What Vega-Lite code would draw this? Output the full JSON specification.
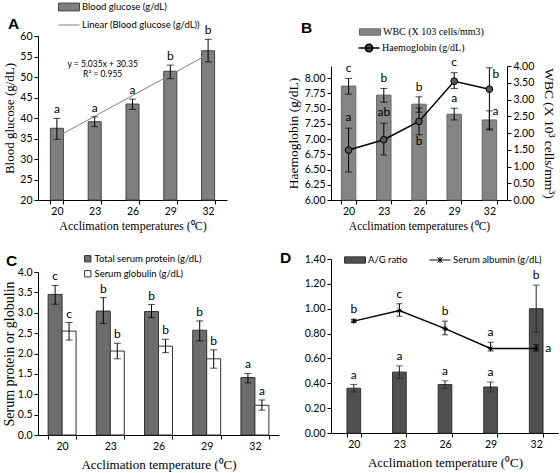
{
  "$schema": "https://vega.github.io/schema/vega-lite/v6.json",
  "padding": {"top": 1, "left": 2, "right": 0, "bottom": 0},
  "background": "white",
  "columns": 2,
  "bounds": "flush",
  "spacing": {"row": 59, "column": 52},
  "resolve": {"scale": {"fill": "independent", "stroke": "independent"}, "legend": {"fill": "independent", "stroke": "independent"}},
  "config": {
    "view": {"stroke": null},
    "font": "Lato",
    "axis": {"grid": false, "domainColor": "#000", "tickColor": "#000", "labelColor": "#000", "titleColor": "#000", "labelFont": "Lato", "labelFontSize": 10.5, "titleFont": "Liberation Serif", "titleFontSize": 13, "titleFontWeight": "normal", "tickSize": 4, "labelPadding": 2, "labelOverlap": false},
    "axisX": {"labelAngle": 0, "tickBand": "extent"},
    "legend": {"orient": "none", "padding": 0, "labelFont": "Lato", "labelFontSize": 9.5, "labelColor": "#000", "labelOffset": 7},
    "title": {"font": "Liberation Sans", "fontSize": 15.5, "fontWeight": "bold", "anchor": "start", "frame": "group", "color": "#000", "baseline": "alphabetic"},
    "text": {"font": "Lato", "fontSize": 12, "color": "#000"}
  },
  "datasets": {
    "glucose": [
      {"t": "20", "v": 37.5, "lo": 34.8, "hi": 39.9, "trend": 35.39, "sig": "a"},
      {"t": "23", "v": 39.1, "lo": 37.9, "hi": 40.3, "trend": 40.42, "sig": "a"},
      {"t": "26", "v": 43.4, "lo": 42.1, "hi": 44.6, "trend": 45.46, "sig": "a"},
      {"t": "29", "v": 51.4, "lo": 49.6, "hi": 52.9, "trend": 50.49, "sig": "b"},
      {"t": "32", "v": 56.4, "lo": 53.7, "hi": 59.2, "trend": 55.53, "sig": "b"}
    ],
    "blood": [
      {"t": "20", "wbc": 3.40, "wlo": 3.16, "whi": 3.63, "hb": 6.82, "hlo": 6.46, "hhi": 7.18, "ws": "c", "hs": "a"},
      {"t": "23", "wbc": 3.13, "wlo": 2.92, "whi": 3.33, "hb": 6.99, "hlo": 6.74, "hhi": 7.26, "ws": "b", "hs": "ab"},
      {"t": "26", "wbc": 2.86, "wlo": 2.62, "whi": 3.08, "hb": 7.29, "hlo": 7.07, "hhi": 7.51, "ws": "b", "hs": "b"},
      {"t": "29", "wbc": 2.56, "wlo": 2.39, "whi": 2.74, "hb": 7.95, "hlo": 7.83, "hhi": 8.09, "ws": "a", "hs": "c"},
      {"t": "32", "wbc": 2.39, "wlo": 2.12, "whi": 2.66, "hb": 7.82, "hlo": 7.15, "hhi": 8.17, "ws": "a", "hs": "b"}
    ],
    "protein": [
      {"t": "20", "s": "Total serum protein (g/dL)", "v": 3.45, "lo": 3.21, "hi": 3.67, "sig": "c"},
      {"t": "20", "s": "Serum globulin (g/dL)", "v": 2.55, "lo": 2.33, "hi": 2.76, "sig": "c"},
      {"t": "23", "s": "Total serum protein (g/dL)", "v": 3.04, "lo": 2.74, "hi": 3.37, "sig": "b"},
      {"t": "23", "s": "Serum globulin (g/dL)", "v": 2.06, "lo": 1.87, "hi": 2.25, "sig": "b"},
      {"t": "26", "s": "Total serum protein (g/dL)", "v": 3.03, "lo": 2.88, "hi": 3.20, "sig": "b"},
      {"t": "26", "s": "Serum globulin (g/dL)", "v": 2.18, "lo": 2.02, "hi": 2.35, "sig": "b"},
      {"t": "29", "s": "Total serum protein (g/dL)", "v": 2.57, "lo": 2.31, "hi": 2.80, "sig": "b"},
      {"t": "29", "s": "Serum globulin (g/dL)", "v": 1.87, "lo": 1.64, "hi": 2.09, "sig": "b"},
      {"t": "32", "s": "Total serum protein (g/dL)", "v": 1.41, "lo": 1.28, "hi": 1.51, "sig": "a"},
      {"t": "32", "s": "Serum globulin (g/dL)", "v": 0.73, "lo": 0.61, "hi": 0.86, "sig": "a"}
    ],
    "ag": [
      {"t": "20", "r": 0.36, "rlo": 0.33, "rhi": 0.39, "rs": "a", "alb": 0.90, "alo": 0.89, "ahi": 0.915, "as": "b"},
      {"t": "23", "r": 0.49, "rlo": 0.44, "rhi": 0.54, "rs": "a", "alb": 0.985, "alo": 0.94, "ahi": 1.04, "as": "c"},
      {"t": "26", "r": 0.39, "rlo": 0.36, "rhi": 0.42, "rs": "a", "alb": 0.84, "alo": 0.79, "ahi": 0.90, "as": "b"},
      {"t": "29", "r": 0.37, "rlo": 0.33, "rhi": 0.41, "rs": "a", "alb": 0.68, "alo": 0.66, "ahi": 0.73, "as": "a"},
      {"t": "32", "r": 1.00, "rlo": 0.81, "rhi": 1.19, "rs": "b", "alb": 0.68, "alo": 0.66, "ahi": 0.71, "as": "a"}
    ]
  },
  "concat": [
    {
      "width": 189, "height": 164,
      "title": {"text": "A", "dx": -30, "offset": -31},
      "data": {"name": "glucose"},
      "encoding": {
        "x": {"field": "t", "type": "ordinal", "scale": {"paddingInner": 0.656, "paddingOuter": 0.328},
              "axis": {"title": "Acclimation temperatures (⁰C)", "titleFontSize": 12}}
      },
      "layer": [
        {"mark": {"type": "bar", "stroke": "#444", "strokeWidth": 1},
         "encoding": {
           "y": {"field": "v", "type": "quantitative", "scale": {"domain": [20, 60], "nice": false},
                 "axis": {"values": [20, 25, 30, 35, 40, 45, 50, 55, 60], "tickCount": 20, "labelOverlap": false, "title": "Blood glucose (g/dL)", "titlePadding": 3}},
           "y2": {"datum": 20},
           "fill": {"datum": "Blood glucose (g/dL)", "type": "nominal", "scale": {"range": ["#7f7f7f"]},
                    "legend": {"title": null, "legendX": 25, "legendY": -35, "symbolType": "M-2,-0.75H2V0.75H-2Z", "symbolSize": 110, "symbolStrokeColor": "#444", "symbolStrokeWidth": 1}}
         }},
        {"mark": {"type": "line", "strokeWidth": 1},
         "encoding": {
           "y": {"field": "trend", "type": "quantitative"},
           "stroke": {"datum": "Linear (Blood glucose (g/dL))", "type": "nominal", "scale": {"range": ["#808080"]},
                      "legend": {"title": null, "legendX": 25, "legendY": -17, "symbolType": "M-2,0H2", "symbolSize": 110, "symbolStrokeWidth": 1}}
         }},
        {"mark": {"type": "rule", "color": "#000"},
         "encoding": {"y": {"field": "lo", "type": "quantitative"}, "y2": {"field": "hi"}}},
        {"mark": {"type": "tick", "color": "#000", "size": 7, "thickness": 1},
         "encoding": {"y": {"field": "lo", "type": "quantitative"}}},
        {"mark": {"type": "tick", "color": "#000", "size": 7, "thickness": 1},
         "encoding": {"y": {"field": "hi", "type": "quantitative"}}},
        {"mark": {"type": "text", "dy": -5, "baseline": "alphabetic"},
         "encoding": {"y": {"field": "hi", "type": "quantitative"}, "text": {"field": "sig"}}},
        {"data": {"values": [{}]},
         "mark": {"type": "text", "text": ["y = 5.035x + 30.35", "R² = 0.955"], "fontSize": 8.5, "lineHeight": 10, "baseline": "top", "dx": 8},
         "encoding": {"x": {"datum": "23", "type": "ordinal"}, "y": {"datum": 54.1, "type": "quantitative"}}}
      ]
    },
    {
      "width": 176, "height": 164,
      "title": {"text": "B", "dx": -30, "offset": -10},
      "data": {"name": "blood"},
      "encoding": {
        "x": {"field": "t", "type": "ordinal", "scale": {"paddingInner": 0.59, "paddingOuter": 0.295},
              "axis": {"title": "Acclimation temperatures (⁰C)", "titleFontSize": 11.5}}
      },
      "layer": [
        {"layer": [
          {"mark": {"type": "bar", "stroke": "#666", "strokeWidth": 1},
           "encoding": {
             "y": {"field": "wbc", "type": "quantitative", "scale": {"domain": [0, 4], "range": [164, 30], "nice": false},
                   "axis": {"orient": "right", "values": [0, 0.5, 1, 1.5, 2, 2.5, 3, 3.5, 4], "tickCount": 20, "labelOverlap": false, "format": ".2f", "title": "WBC (X 10³ cells/mm³)", "titleFontSize": 13.5, "titlePadding": 8}},
             "fill": {"datum": "WBC (X 103 cells/mm3)", "type": "nominal", "scale": {"range": ["#858585"]},
                      "legend": {"title": null, "legendX": 33, "legendY": -10, "symbolType": "M-2,-0.6H2V0.6H-2Z", "symbolSize": 110, "symbolStrokeColor": "#666", "symbolStrokeWidth": 1, "labelFont": "Liberation Serif", "labelFontSize": 10}}
           }},
          {"mark": {"type": "rule", "color": "#000"},
           "encoding": {"y": {"field": "wlo", "type": "quantitative"}, "y2": {"field": "whi"}}},
          {"mark": {"type": "tick", "color": "#000", "size": 7, "thickness": 1},
           "encoding": {"y": {"field": "wlo", "type": "quantitative"}}},
          {"mark": {"type": "tick", "color": "#000", "size": 7, "thickness": 1},
           "encoding": {"y": {"field": "whi", "type": "quantitative"}}},
          {"transform": [{"filter": "datum.t != '32'"}],
           "mark": {"type": "text", "dy": -6, "baseline": "alphabetic"},
           "encoding": {"y": {"field": "whi", "type": "quantitative"}, "text": {"field": "ws"}}},
          {"transform": [{"filter": "datum.t == '32'"}],
           "mark": {"type": "text", "dx": 3, "align": "left", "baseline": "middle"},
           "encoding": {"y": {"field": "whi", "type": "quantitative"}, "text": {"field": "ws"}}}
        ]},
        {"layer": [
          {"mark": {"type": "line", "strokeWidth": 1.5},
           "encoding": {
             "y": {"field": "hb", "type": "quantitative", "scale": {"domain": [6, 8.2], "range": [164, 30], "nice": false},
                   "axis": {"values": [6, 6.25, 6.5, 6.75, 7, 7.25, 7.5, 7.75, 8], "tickCount": 20, "labelOverlap": false, "format": ".2f", "title": "Haemoglobin (g/dL)", "titleFontSize": 13.5}},
             "stroke": {"datum": "Haemoglobin (g/dL)", "type": "nominal", "scale": {"range": ["#000000"]},
                        "legend": {"title": null, "legendX": 32, "legendY": 6, "symbolType": "M-2,0H2M0.7,0A0.7,0.7,0,1,1,-0.7,0A0.7,0.7,0,1,1,0.7,0", "symbolSize": 110, "symbolStrokeWidth": 1.5, "labelFont": "Liberation Serif", "labelFontSize": 10,
                                   "encode": {"symbols": {"update": {"fill": {"value": "#555"}}}}}}
           }},
          {"mark": {"type": "rule", "color": "#000"},
           "encoding": {"y": {"field": "hlo", "type": "quantitative"}, "y2": {"field": "hhi"}}},
          {"mark": {"type": "tick", "color": "#000", "size": 7, "thickness": 1},
           "encoding": {"y": {"field": "hlo", "type": "quantitative"}}},
          {"mark": {"type": "tick", "color": "#000", "size": 7, "thickness": 1},
           "encoding": {"y": {"field": "hhi", "type": "quantitative"}}},
          {"mark": {"type": "point", "filled": true, "fill": "#555", "stroke": "#000", "strokeWidth": 1, "size": 45, "opacity": 1},
           "encoding": {"y": {"field": "hb", "type": "quantitative"}}},
          {"transform": [{"filter": "datum.t == '20' || datum.t == '23' || datum.t == '29'"}],
           "mark": {"type": "text", "dy": -7, "baseline": "alphabetic"},
           "encoding": {"y": {"field": "hhi", "type": "quantitative"}, "text": {"field": "hs"}}},
          {"transform": [{"filter": "datum.t == '26'"}],
           "mark": {"type": "text", "dy": 1, "baseline": "top"},
           "encoding": {"y": {"field": "hlo", "type": "quantitative"}, "text": {"field": "hs"}}},
          {"transform": [{"filter": "datum.t == '32'"}],
           "mark": {"type": "text", "dx": 3, "dy": 1, "align": "left", "baseline": "top"},
           "encoding": {"y": {"field": "hhi", "type": "quantitative"}, "text": {"field": "hs"}}}
        ]}
      ],
      "resolve": {"scale": {"y": "independent"}}
    },
    {
      "width": 241, "height": 176,
      "title": {"text": "C", "dx": -32, "offset": -15},
      "data": {"name": "protein"},
      "encoding": {
        "x": {"field": "t", "type": "ordinal", "scale": {"paddingInner": 0.42, "paddingOuter": 0.21},
              "axis": {"title": "Acclimation temperature (⁰C)", "titleFontSize": 13, "titlePadding": 7}},
        "xOffset": {"field": "s", "type": "nominal", "scale": {"domain": ["Total serum protein (g/dL)", "Serum globulin (g/dL)"], "paddingInner": 0, "paddingOuter": 0}}
      },
      "layer": [
        {"mark": {"type": "bar", "stroke": "#333", "strokeWidth": 1},
         "encoding": {
           "y": {"field": "v", "type": "quantitative", "scale": {"domain": [0, 4], "range": [176, 13], "nice": false},
                 "axis": {"values": [0, 0.5, 1, 1.5, 2, 2.5, 3, 3.5, 4], "tickCount": 20, "labelOverlap": false, "format": ".1f", "title": "Serum protein or globulin", "titleFontSize": 14, "titlePadding": 1}},
           "fill": {"field": "s", "type": "nominal", "scale": {"domain": ["Total serum protein (g/dL)", "Serum globulin (g/dL)"], "range": ["#6d6d6d", "#ffffff"]},
                    "legend": {"title": null, "legendX": 45, "legendY": -5, "symbolType": "square", "symbolSize": 40, "symbolStrokeColor": "#333", "symbolStrokeWidth": 1, "rowPadding": 4, "labelOffset": 2}}
         }},
        {"mark": {"type": "rule", "color": "#000"},
         "encoding": {"y": {"field": "lo", "type": "quantitative"}, "y2": {"field": "hi"}}},
        {"mark": {"type": "tick", "color": "#000", "size": 7, "thickness": 1},
         "encoding": {"y": {"field": "lo", "type": "quantitative"}}},
        {"mark": {"type": "tick", "color": "#000", "size": 7, "thickness": 1},
         "encoding": {"y": {"field": "hi", "type": "quantitative"}}},
        {"mark": {"type": "text", "dy": -5, "baseline": "alphabetic"},
         "encoding": {"y": {"field": "hi", "type": "quantitative"}, "text": {"field": "sig"}}}
      ]
    },
    {
      "width": 228, "height": 174,
      "title": {"text": "D", "dx": -51, "offset": -12},
      "data": {"name": "ag"},
      "encoding": {
        "x": {"field": "t", "type": "ordinal", "scale": {"paddingInner": 0.7, "paddingOuter": 0.35},
              "axis": {"title": "Acclimation temperature (⁰C)", "titleFontSize": 13, "titlePadding": 7}}
      },
      "layer": [
        {"mark": {"type": "bar", "stroke": "#333", "strokeWidth": 1},
         "encoding": {
           "y": {"field": "r", "type": "quantitative", "scale": {"domain": [0, 1.4], "nice": false},
                 "axis": {"values": [0, 0.2, 0.4, 0.6, 0.8, 1, 1.2, 1.4], "tickCount": 20, "labelOverlap": false, "format": ".2f", "title": null}},
           "fill": {"datum": "A/G ratio", "type": "nominal", "scale": {"range": ["#505050"]},
                    "legend": {"title": null, "legendX": 18, "legendY": -5, "symbolType": "M-2,-0.6H2V0.6H-2Z", "symbolSize": 110, "symbolStrokeColor": "#333", "symbolStrokeWidth": 1}}
         }},
        {"mark": {"type": "rule", "color": "#222"},
         "encoding": {"y": {"field": "rlo", "type": "quantitative"}, "y2": {"field": "rhi"}}},
        {"mark": {"type": "tick", "color": "#222", "size": 7, "thickness": 1},
         "encoding": {"y": {"field": "rlo", "type": "quantitative"}}},
        {"mark": {"type": "tick", "color": "#222", "size": 7, "thickness": 1},
         "encoding": {"y": {"field": "rhi", "type": "quantitative"}}},
        {"mark": {"type": "text", "dy": -6, "baseline": "alphabetic"},
         "encoding": {"y": {"field": "rhi", "type": "quantitative"}, "text": {"field": "rs"}}},
        {"mark": {"type": "line", "strokeWidth": 1.5},
         "encoding": {
           "y": {"field": "alb", "type": "quantitative"},
           "stroke": {"datum": "Serum albumin (g/dL)", "type": "nominal", "scale": {"range": ["#000000"]},
                      "legend": {"title": null, "legendX": 103, "legendY": -5, "symbolType": "M-2,0H2M-0.5,-0.5L0.5,0.5M-0.5,0.5L0.5,-0.5M0,-0.6V0.6", "symbolSize": 110, "symbolStrokeWidth": 1}}
         }},
        {"mark": {"type": "rule", "color": "#000"},
         "encoding": {"y": {"field": "alo", "type": "quantitative"}, "y2": {"field": "ahi"}}},
        {"mark": {"type": "tick", "color": "#000", "size": 6, "thickness": 1},
         "encoding": {"y": {"field": "alo", "type": "quantitative"}}},
        {"mark": {"type": "tick", "color": "#000", "size": 6, "thickness": 1},
         "encoding": {"y": {"field": "ahi", "type": "quantitative"}}},
        {"mark": {"type": "point", "filled": false, "shape": "M-1,0H1M0,-1V1M-0.7,-0.7L0.7,0.7M-0.7,0.7L0.7,-0.7", "stroke": "#000", "strokeWidth": 1, "size": 30, "opacity": 1},
         "encoding": {"y": {"field": "alb", "type": "quantitative"}}},
        {"transform": [{"filter": "datum.t != '32'"}],
         "mark": {"type": "text", "dy": -6, "baseline": "alphabetic"},
         "encoding": {"y": {"field": "ahi", "type": "quantitative"}, "text": {"field": "as"}}},
        {"transform": [{"filter": "datum.t == '32'"}],
         "mark": {"type": "text", "dx": 9, "align": "left", "baseline": "middle"},
         "encoding": {"y": {"field": "alb", "type": "quantitative"}, "text": {"field": "as"}}}
      ]
    }
  ]
}
